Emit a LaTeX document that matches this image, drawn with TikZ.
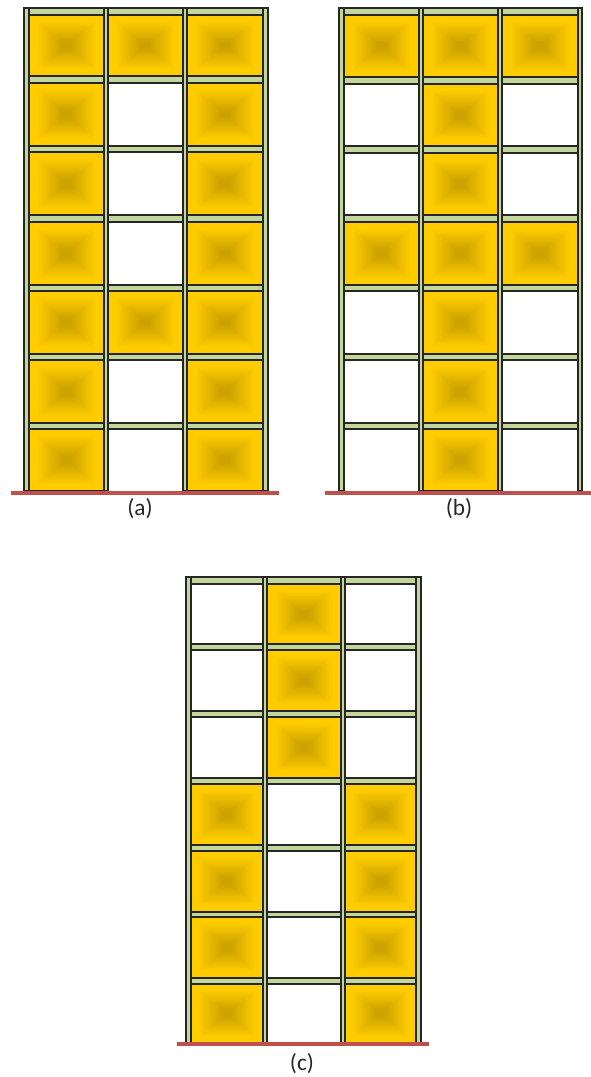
\documentclass[tikz,border=0pt]{standalone}
\usepackage{fontspec}
\setmainfont{Carlito}
\definecolor{steel}{HTML}{C3D69B}
\definecolor{ground}{HTML}{C0504D}
\definecolor{panelLight}{HTML}{FFCC00}
\definecolor{panelDark}{HTML}{CCA300}
\newcommand{\infill}[4]{%
  \fill[panelLight] (#1,#2) rectangle (#3,#4);
  \foreach \i in {0,...,24}{%
    \pgfmathsetmacro{\f}{0.2+0.68*\i/24}%
    \pgfmathsetmacro{\p}{100*\i/24}%
    \pgfmathsetmacro{\hw}{0.5*(#3-#1)*(1-\f)}%
    \pgfmathsetmacro{\hh}{0.5*(#4-#2)*(1-\f)}%
    \pgfmathsetmacro{\cx}{0.5*(#3+#1)}%
    \pgfmathsetmacro{\cy}{0.5*(#4+#2)}%
    \fill[panelDark!\p!panelLight] (\cx-\hw,\cy-\hh) rectangle (\cx+\hw,\cy+\hh);
  }%
  \draw[edge] (#1,#2) rectangle (#3,#4);
}
\tikzset{
  edge/.style={draw=black!85,line width=1pt},
  member/.style={fill=steel,draw=black!85,line width=1pt},
  groundline/.style={draw=ground,line width=3pt},
  caption/.style={font=\fontsize{17.5}{20}\selectfont,text=black!85,inner sep=0pt}
}
\begin{document}
\begin{tikzpicture}[x=0.75pt,y=-0.75pt]
\useasboundingbox (0,0) rectangle (591,1077);
% ---------- frame (a)
\foreach \ya/\yb in {15/76,83/146,152/215,222/285,291/354,360/423,429/491}{
  \infill{29}{\ya}{104}{\yb}
  \infill{187}{\ya}{263}{\yb}
}
\infill{108}{15}{183}{76}
\infill{108}{291}{183}{354}
\foreach \ya/\yb in {8/15,76/83,146/152,215/222,285/291,354/360,423/429}
  \foreach \xa/\xb in {29/104,108/183,187/263}
    \draw[member] (\xa,\ya) rectangle (\xb,\yb);
\foreach \xa/\xb in {24/29,104/108,183/187,263/268}
  \draw[member] (\xa,8) rectangle (\xb,491);
\coordinate (ga) at (11,492.5);
\coordinate (gb) at (279,492.5);
\draw[groundline] (ga) -- (gb);
\node[caption] (capa) at (140,509) {(a)};
% ---------- frame (b)
\foreach \ya/\yb in {15/77,84/146,153/215,222/285,291/354,360/423,429/491}
  \infill{423}{\ya}{498}{\yb}
\foreach \xa/\xb in {344/419,502/578}{
  \infill{\xa}{15}{\xb}{77}
  \infill{\xa}{222}{\xb}{285}
}
\foreach \ya/\yb in {8/15,77/84,146/153,215/222,285/291,354/360,423/429}
  \foreach \xa/\xb in {344/419,423/498,502/578}
    \draw[member] (\xa,\ya) rectangle (\xb,\yb);
\foreach \xa/\xb in {339/344,419/423,498/502,578/582}
  \draw[member] (\xa,8) rectangle (\xb,491);
\coordinate (gc) at (325,492.5);
\coordinate (gd) at (591,492.5);
\draw[groundline] (gc) -- (gd);
\node[caption] (capb) at (459,509) {(b)};
% ---------- frame (c)
\foreach \ya/\yb in {584/644,650/711,717/778}
  \infill{267}{\ya}{341}{\yb}
\foreach \ya/\yb in {784/845,851/912,917/978,984/1043}{
  \infill{191}{\ya}{263}{\yb}
  \infill{345}{\ya}{416}{\yb}
}
\foreach \ya/\yb in {577/584,644/650,711/717,778/784,845/851,912/917,978/984}
  \foreach \xa/\xb in {191/263,267/341,345/416}
    \draw[member] (\xa,\ya) rectangle (\xb,\yb);
\foreach \xa/\xb in {186/191,263/267,341/345,416/421}
  \draw[member] (\xa,577) rectangle (\xb,1043);
\coordinate (ge) at (177,1044);
\coordinate (gf) at (429,1044);
\draw[groundline] (ge) -- (gf);
\node[caption] (capc) at (302,1064) {(c)};
\end{tikzpicture}
\end{document}
